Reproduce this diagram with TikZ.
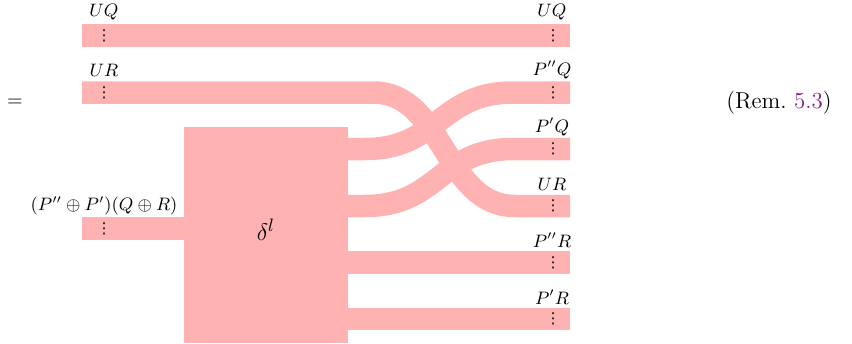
\documentclass[tikz,border=0pt]{standalone}
\usepackage{fontspec}
\usepackage{xcolor}
\newfontfamily\dotsfont{DejaVu Sans}
\definecolor{wirepink}{RGB}{255,178,178}
\definecolor{refpurple}{RGB}{128,30,128}
\begin{document}
\begin{tikzpicture}[x=0.5pt,y=-0.5pt,
  wire/.style={draw=wirepink,line width=11.25pt,line cap=butt},
  lbl/.style={font=\fontsize{8.6}{10}\selectfont,inner sep=0pt},
  dotsn/.style={font=\dotsfont\fontsize{7.5}{7.5}\selectfont,inner sep=0pt},
  box/.style={fill=wirepink,draw=none,inner sep=0pt}]
\useasboundingbox (0,0) rectangle (852,343);
% box
\node[box,minimum width=82pt,minimum height=108pt,anchor=north west] (delta) at (184,127) {};
\node[font=\fontsize{13}{15}\selectfont] (dl) at (266,230) {$\delta^{l}$};
% coordinates
\coordinate (uqL) at (82,35.5);   \coordinate (uqR) at (570,35.5);
\coordinate (urL) at (82,92.5);   \coordinate (urA) at (373,92.5);
\coordinate (urB) at (515,206);   \coordinate (urR) at (570,206);
\coordinate (inL) at (82,228.5);  \coordinate (inR) at (185,228.5);
\coordinate (o1) at (347,149);    \coordinate (o1A) at (365,149);
\coordinate (o1B) at (513,92.5);  \coordinate (o1R) at (570,92.5);
\coordinate (o2) at (347,206);    \coordinate (o2A) at (365,206);
\coordinate (o2B) at (513,149);   \coordinate (o2R) at (570,149);
\coordinate (o3) at (347,262.5);  \coordinate (o3R) at (570,262.5);
\coordinate (o4) at (347,319);    \coordinate (o4R) at (570,319);
% wires
\draw[wire] (uqL) -- (uqR);
\draw[wire] (inL) -- (inR);
\draw[wire] (o3) -- (o3R);
\draw[wire] (o4) -- (o4R);
\draw[wire] (o1) -- (o1A) .. controls (439,149) and (439,92.5) .. (o1B) -- (o1R);
\draw[wire] (o2) -- (o2A) .. controls (439,206) and (439,149) .. (o2B) -- (o2R);
\draw[wire] (urL) -- (urA) .. controls (444,92.5) and (444,206) .. (urB) -- (urR);
% labels
\node[lbl] (l1) at (104,12) {$UQ$};
\node[lbl] (r1) at (552,12) {$UQ$};
\node[lbl] (l2) at (104,70) {$UR$};
\node[lbl] (r2) at (552,70) {$P''Q$};
\node[lbl] (r3) at (552,127) {$P'Q$};
\node[lbl] (r4) at (552,184) {$UR$};
\node[lbl] (r5) at (552,240) {$P''R$};
\node[lbl] (r6) at (552,297) {$P'R$};
\node[lbl] (l3) at (104,206) {$(P''\oplus P')(Q\oplus R)$};
% dots
\foreach \n/\x/\y in {d1/104/35.5,d2/104/92.5,d3/104/228.5,
  e1/553/35.5,e2/553/92.5,e3/553/149,e4/553/206,e5/553/262.5,e6/553/319}
  \node[dotsn] (\n) at (\x,\y) {⋮};
% equation parts
\node[font=\fontsize{10}{12}\selectfont] (eq) at (15,103) {$=$};
\node[font=\fontsize{11.5}{13}\selectfont] (rem) at (779,103) {(Rem.~\textcolor{refpurple}{5.3})};
\end{tikzpicture}
\end{document}
